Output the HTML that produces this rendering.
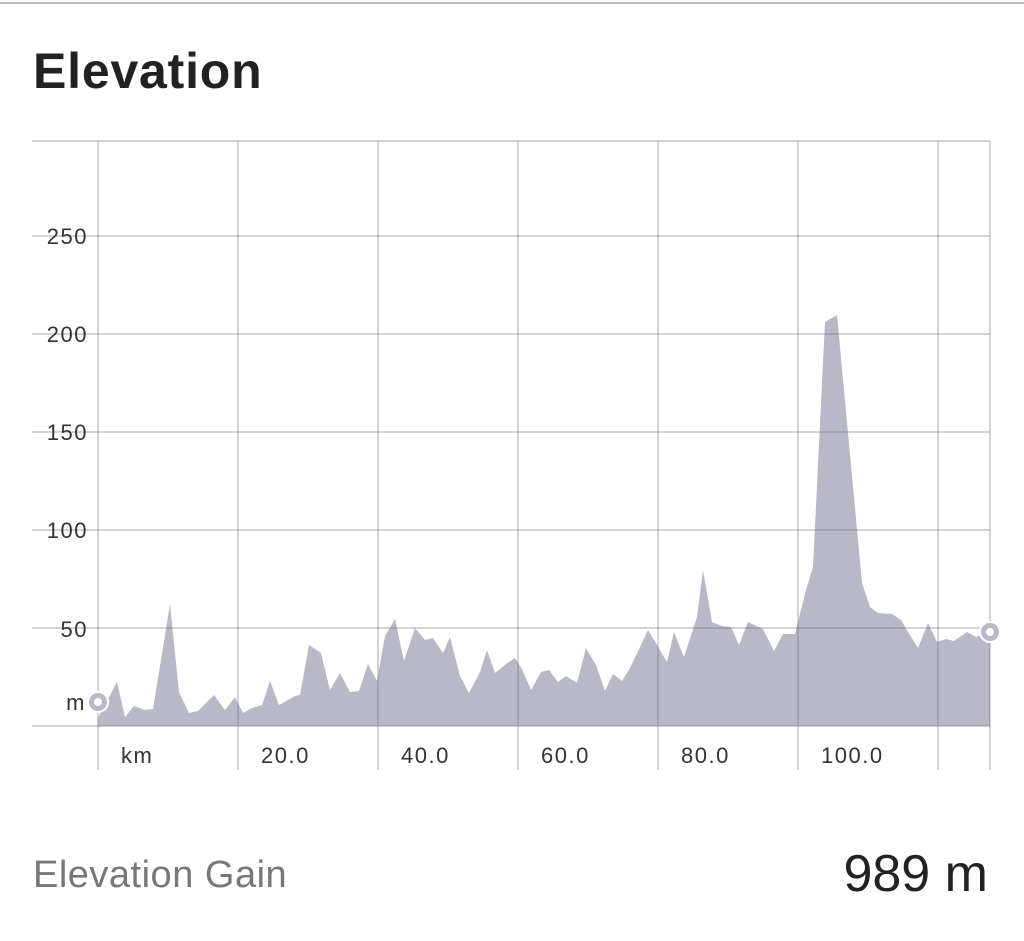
<!DOCTYPE html>
<html><head><style>
body{margin:0;width:1024px;height:941px;background:#fff;overflow:hidden;font-family:"Liberation Sans",sans-serif}
</style></head><body>
<svg width="1024" height="941" style="position:absolute;left:0;top:0">
<line x1="0" y1="3" x2="1024" y2="3" stroke="#bbb" stroke-width="2"/>
<text x="33" y="88" font-size="50" font-weight="bold" fill="#222" font-family="Liberation Sans" letter-spacing="0.8">Elevation</text>
<polygon fill="#b8b8c6" points="98,718 117,682 125,717 134,706 145,710 153,709 170,604 179,692 189,713 198,711 214,695 225,710 235,697 243,713 252,708 262,705 270,681 279,705 295,696 300,695 309,645 321,653 330,690 340,673 350,692 359,691 368,664 377,681 385,636 395,619 404,661 415,628 425,640 433,638 443,653 450,637 460,676 469,693 480,672 487,650 495,673 506,664 515,658 522,669 531,690 541,672 549,670 558,682 566,676 577,683 586,648 596,665 605,691 613,674 622,681 630,668 648,630 660,650 667,662 674,632 684,657 697,617 703,570 712,622 722,626 731,627 739,645 748,622 763,629 774,651 783,634 795,634 806,590 813,567 825,322 837,315 862,583 870,607 878,613 892,614 901,620 908,632 918,648 928,623 937,642 946,639 954,641 967,632 976,637 990,632 990,726 98,726"/>
<g stroke="#6e6e80" stroke-opacity="0.3" stroke-width="2">
<line x1="32" y1="141" x2="990" y2="141"/>
<line x1="32" y1="236" x2="990" y2="236"/>
<line x1="32" y1="334" x2="990" y2="334"/>
<line x1="32" y1="432" x2="990" y2="432"/>
<line x1="32" y1="530" x2="990" y2="530"/>
<line x1="32" y1="628" x2="990" y2="628"/>
<line x1="32" y1="726" x2="990" y2="726"/>
<line x1="98" y1="141" x2="98" y2="770"/>
<line x1="238" y1="141" x2="238" y2="770"/>
<line x1="378" y1="141" x2="378" y2="770"/>
<line x1="518" y1="141" x2="518" y2="770"/>
<line x1="658" y1="141" x2="658" y2="770"/>
<line x1="798" y1="141" x2="798" y2="770"/>
<line x1="938" y1="141" x2="938" y2="770"/>
<line x1="990" y1="141" x2="990" y2="770"/>
</g>
<g font-size="22" fill="#333" text-anchor="end" font-family="Liberation Sans" letter-spacing="1.5">
<text x="88" y="244">250</text>
<text x="88" y="342">200</text>
<text x="88" y="440">150</text>
<text x="88" y="538">100</text>
<text x="88" y="637">50</text>
<text x="86" y="710">m</text>
</g>
<g font-size="22" fill="#333" font-family="Liberation Sans" letter-spacing="1.5">
<text x="121" y="763">km</text>
<text x="261" y="763">20.0</text>
<text x="401" y="763">40.0</text>
<text x="541" y="763">60.0</text>
<text x="681" y="763">80.0</text>
<text x="821" y="763">100.0</text>
</g>
<circle cx="98" cy="702" r="11" fill="#fff"/>
<circle cx="98" cy="702" r="6.5" fill="none" stroke="#b8b8c6" stroke-width="5"/>
<circle cx="990" cy="632" r="11" fill="#fff"/>
<circle cx="990" cy="632" r="6.5" fill="none" stroke="#b8b8c6" stroke-width="5"/>
<text x="33" y="887" font-size="38" fill="#777" font-family="Liberation Sans" letter-spacing="0.5">Elevation Gain</text>
<text x="988" y="891" font-size="52" fill="#222" text-anchor="end" font-family="Liberation Sans">989 m</text>
</svg>
</body></html>
